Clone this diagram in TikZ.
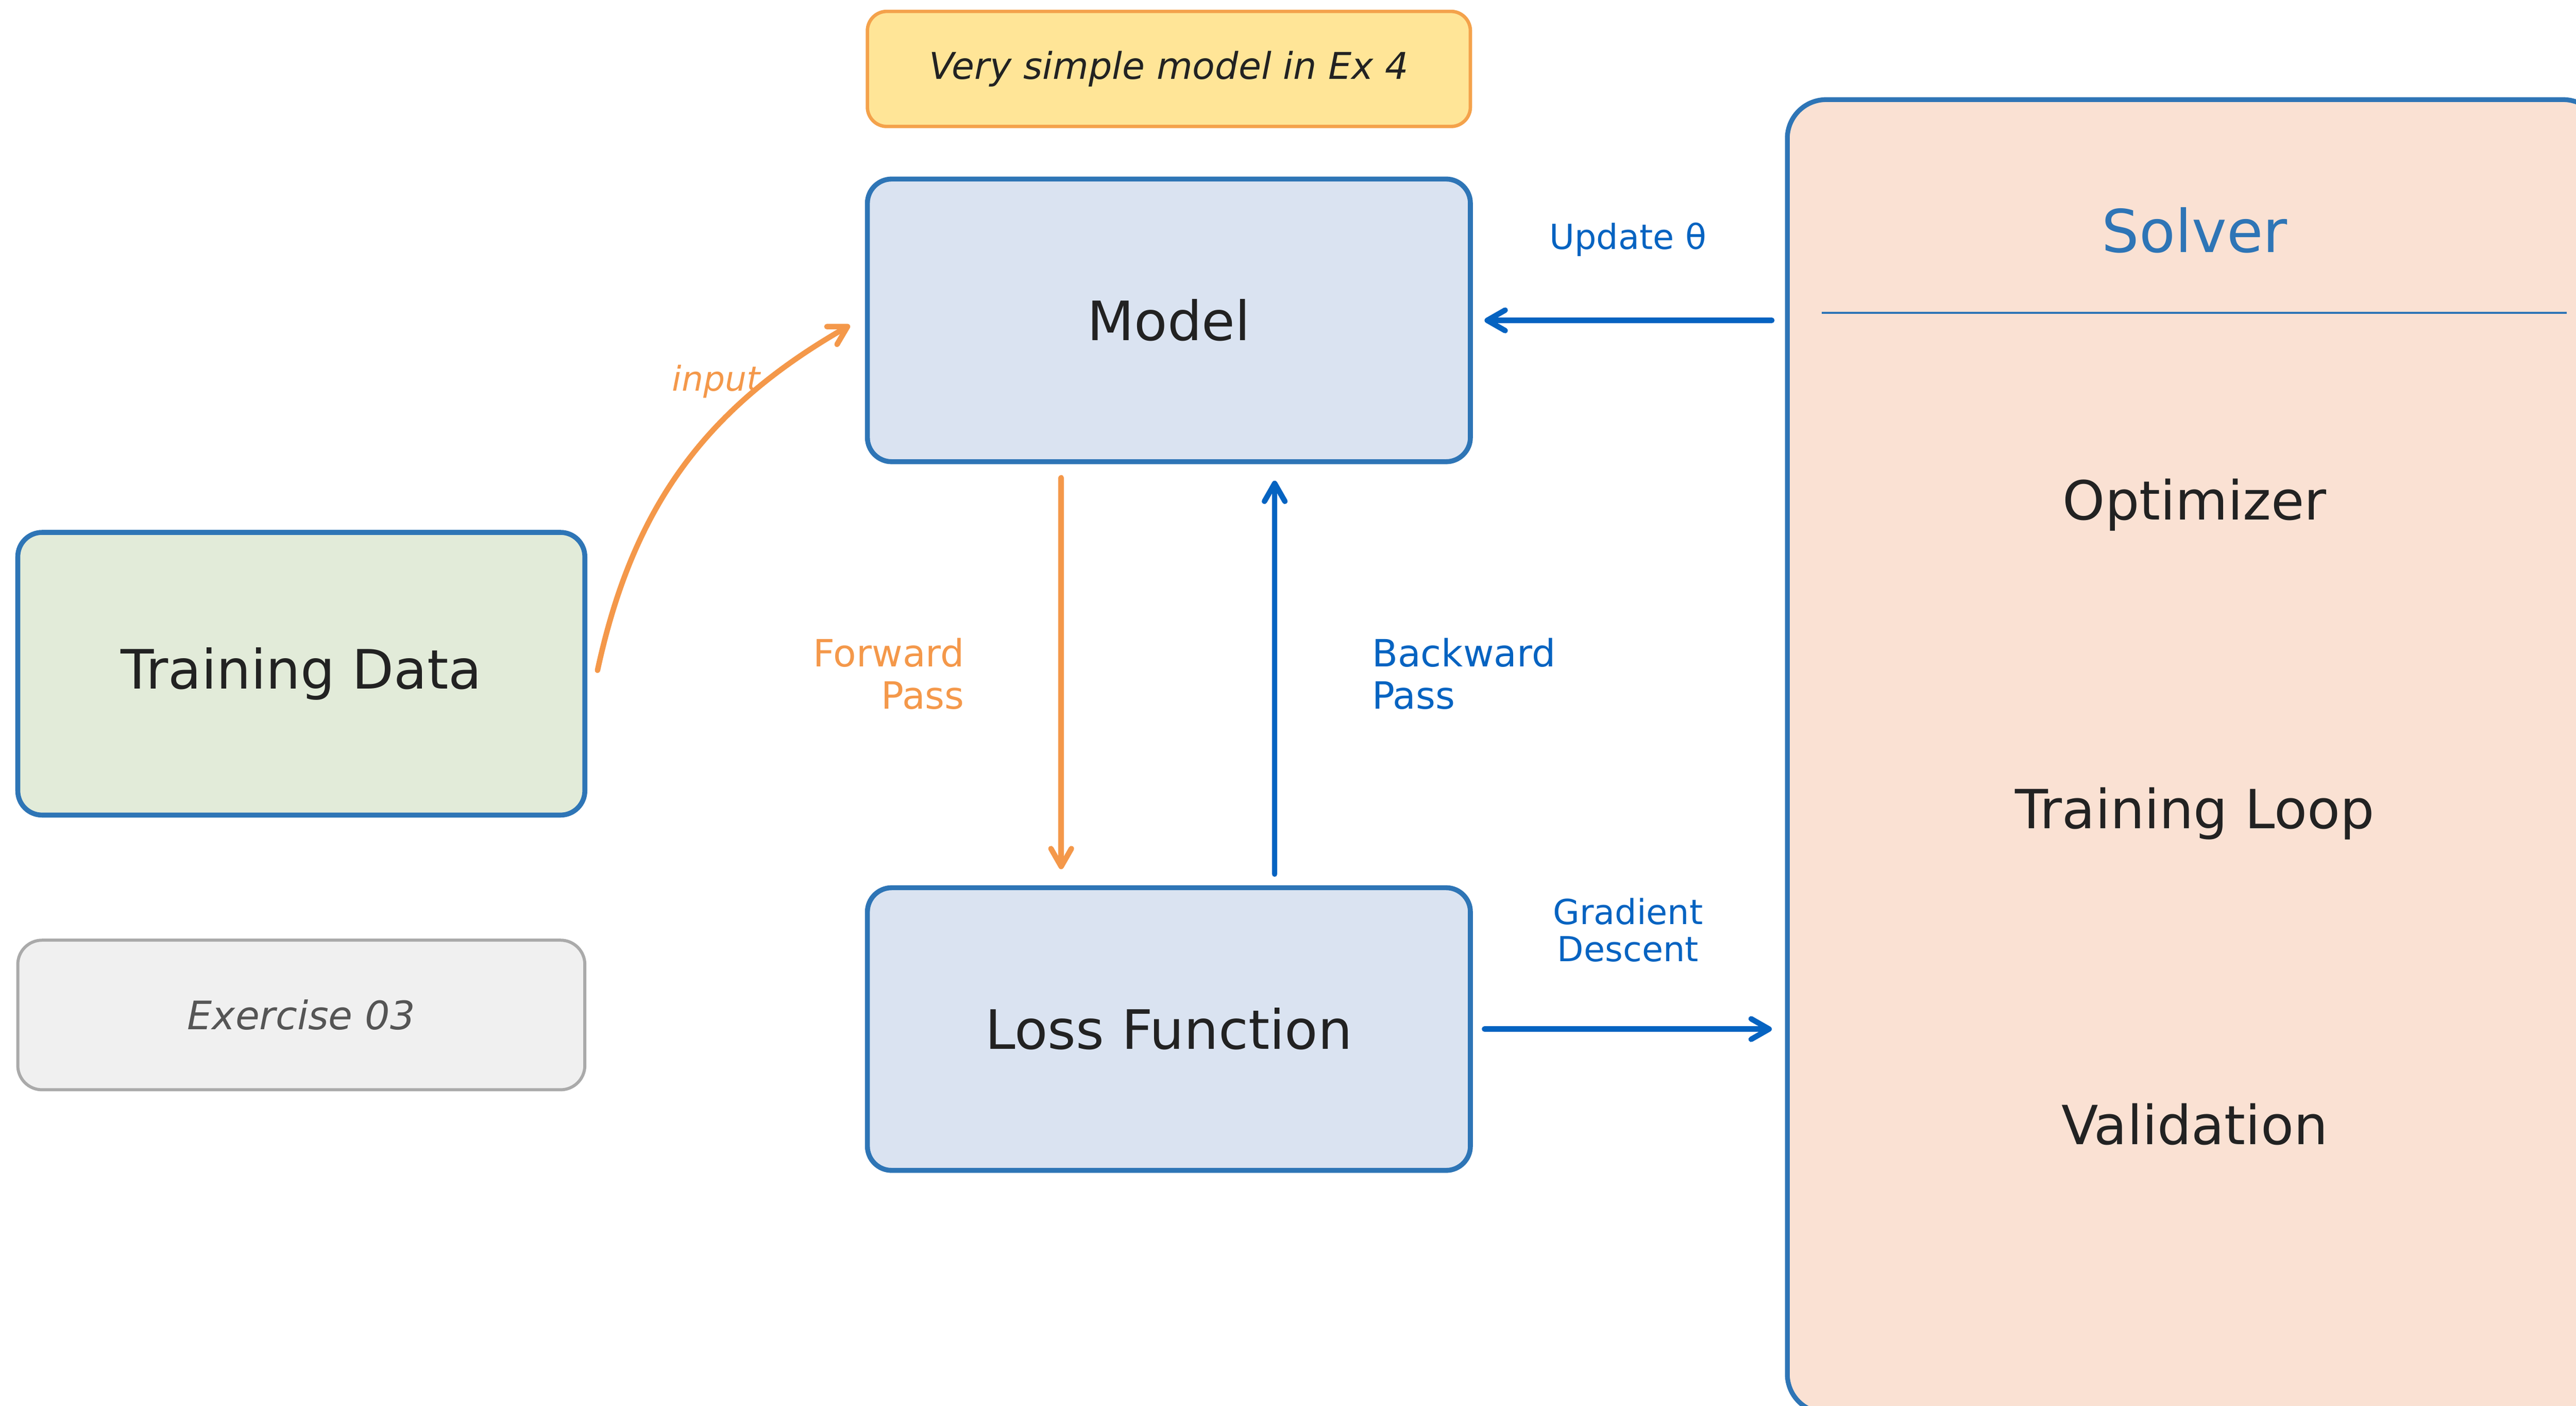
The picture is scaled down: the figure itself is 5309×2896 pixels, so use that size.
\documentclass[tikz,border=0pt]{standalone}
\usepackage{fontspec}
\setmainfont{DejaVu Sans}
\usetikzlibrary{arrows.meta,calc}
\definecolor{boxblue}{HTML}{2E75B6}
\definecolor{arrblue}{HTML}{0563C1}
\definecolor{orng}{HTML}{F4984A}
\definecolor{modelfill}{HTML}{DAE3F1}
\definecolor{datafill}{HTML}{E2EBD9}
\definecolor{solverfill}{HTML}{FAE1D3}
\definecolor{notefill}{HTML}{FFE597}
\definecolor{notedraw}{HTML}{F4A24B}
\definecolor{exfill}{HTML}{F0F0F0}
\definecolor{exdraw}{HTML}{AAAAAA}
\definecolor{txt}{HTML}{222222}
\definecolor{extxt}{HTML}{555555}
\begin{document}
\begin{tikzpicture}[x=0.01cm,y=-0.01cm,
  box/.style={draw=boxblue, line width=2.9pt, rounded corners=0.5cm, text=txt,
    font=\fontsize{31.8}{38}\selectfont, inner sep=0pt, minimum width=12.42cm, minimum height=5.82cm},
  arrB/.style={draw=arrblue, line width=3.2pt, line cap=round,
    -{Straight Barb[length=10.5pt,width=12pt,line cap=round,line join=round]}},
  arrO/.style={arrB, draw=orng},
  lblB/.style={text=arrblue, font=\fontsize{20.2}{22}\selectfont, align=center, inner sep=0pt},
  lblO/.style={text=orng, font=\fontsize{22}{25}\selectfont, inner sep=0pt},
  item/.style={text=txt, font=\fontsize{31.6}{38}\selectfont, inner sep=0pt}
]
\useasboundingbox (0,0) rectangle (5309,2896);

% Solver panel
\node[draw=boxblue, line width=2.8pt, fill=solverfill, rounded corners=0.8cm,
  minimum width=16.78cm, minimum height=27.04cm, inner sep=0pt] (solver) at (4523,1558) {};
\node[text=boxblue, font=\fontsize{34.6}{40}\selectfont, inner sep=0pt] (solvert) at (4523,474) {Solver};
\draw[boxblue, line width=1.2pt] (3754,644) -- (5290,644);
\node[item] (opt) at (4523,1040) {Optimizer};
\node[item] (loop) at (4523,1676) {Training Loop};
\node[item] (val) at (4523,2316) {Validation};

% Note
\node[draw=notedraw, line width=2pt, fill=notefill, rounded corners=0.4cm,
  minimum width=12.42cm, minimum height=2.37cm, inner sep=0pt, text=txt,
  font=\fontsize{21.6}{26}\selectfont\itshape] (note) at (2409,142) {Very simple model in Ex 4};

% Main boxes
\node[box, fill=modelfill] (model) at (2409,660) {Model};
\node[box, fill=modelfill] (loss) at (2409,2120) {Loss Function};
\node[box, fill=datafill, minimum width=11.68cm] (data) at (621,1388) {Training Data};
\node[draw=exdraw, line width=1.8pt, fill=exfill, rounded corners=0.5cm,
  minimum width=11.68cm, minimum height=3.08cm, inner sep=0pt, text=extxt,
  font=\fontsize{23}{27}\selectfont\itshape] (ex) at (621,2091) {Exercise 03};

% Arrows
\draw[arrB] ($(model.east -| solver.west)+(-27,0)$) -- ($(model.east)+(24,0)$);
\node[lblB] (upd) at (3355,494) {Update θ};
\draw[arrB] ($(loss.east)+(24,0)$) -- ($(loss.east -| solver.west)+(-27,0)$);
\node[lblB] (gd) at (3355,1916) {Gradient\\Descent};

\draw[arrO] ($(model.south)+(-222,28)$) -- ($(loss.north)+(-222,-33)$);
\node[lblO, anchor=east, align=right] (fwd) at (1988,1388) {Forward\\Pass};
\draw[arrB] ($(loss.north)+(218,-23)$) -- ($(model.south)+(218,34)$);
\node[lblO, text=arrblue, anchor=west, align=left] (bwd) at (2827,1388) {Backward\\Pass};

\draw[arrO] ($(data.east)+(21,-7)$) to[bend left=24] ($(model.west)+(-31,10)$);
\node[lblO, font=\fontsize{20}{24}\selectfont\itshape] (inp) at (1476,786) {input};
\end{tikzpicture}
\end{document}
